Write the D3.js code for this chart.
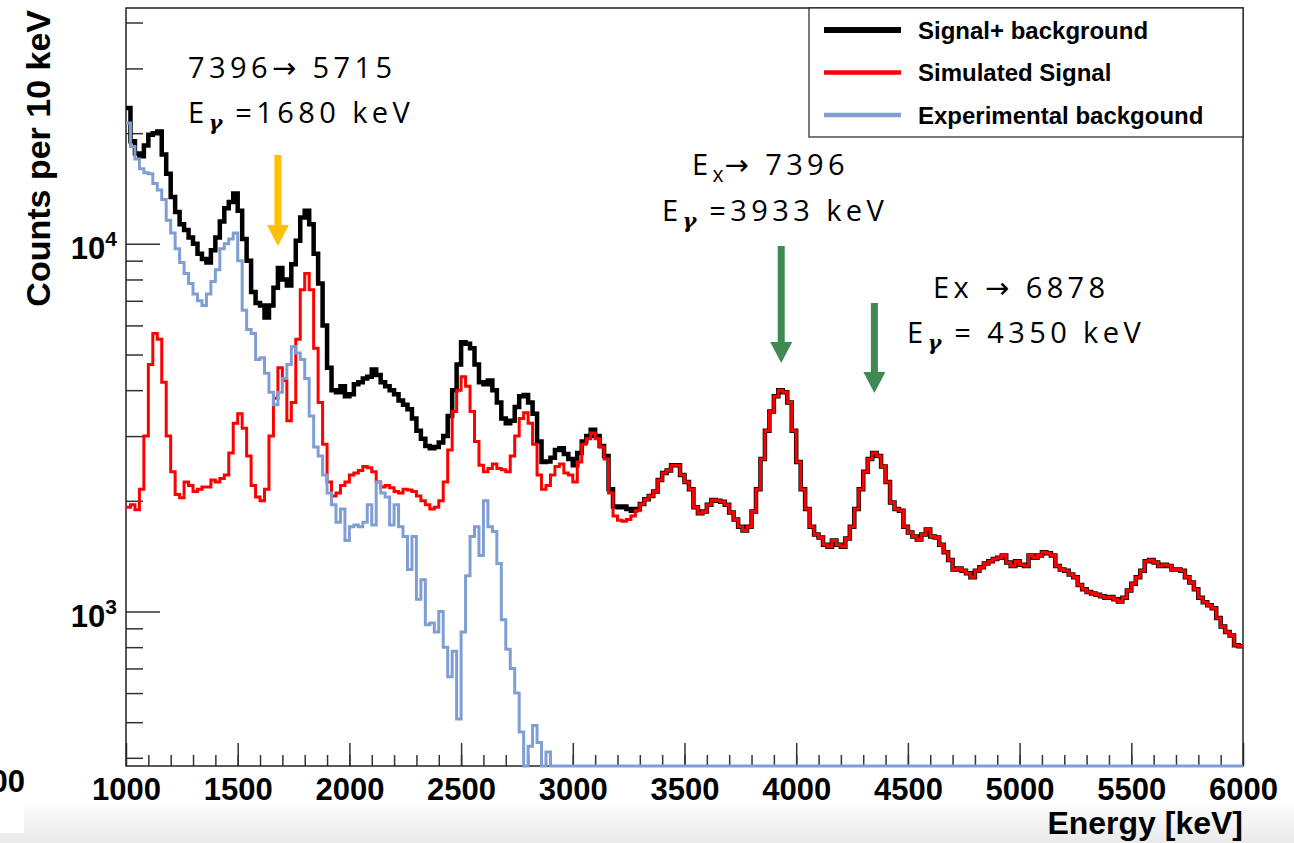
<!DOCTYPE html>
<html>
<head>
<meta charset="utf-8">
<script src="https://cdn.jsdelivr.net/npm/d3@7"></script>
<style>
body { margin: 0; background: #fff; }
svg { display: block; }
</style>
</head>
<body>
<div id="chart"></div>
<script>
// histogram settings: bins of 20 keV starting at 1000 keV (values are counts per 10 keV)
const firstBin = 1000;
const binWidth = 20;

// Simulated signal (red), 1000 -> 5980 keV
const simulatedSignal = [
  1920, 1950, 1890, 2150, 3000, 4700, 5700, 5500, 4200, 3000,
  2400, 2080, 2040, 2250, 2200, 2120, 2150, 2180, 2180, 2280,
  2250, 2300, 2350, 2700, 3250, 3450, 3150, 2650, 2200, 2050,
  2000, 2150, 3000, 3800, 4600, 4250, 3300, 3700, 5500, 7500,
  8300, 7500, 5200, 3700, 2850, 2250, 2060, 2100, 2200, 2250,
  2350, 2380, 2420, 2480, 2460, 2400, 2250, 2180, 2200, 2170,
  2120, 2100, 2150, 2140, 2120, 2060, 2000, 1950, 1900, 1920,
  2000, 2250, 2750, 3500, 4000, 4350, 4100, 3500, 2900, 2500,
  2400, 2450, 2520, 2450, 2430, 2400, 2650, 3000, 3350, 3470,
  3250, 2850, 2350, 2150, 2200, 2350, 2480, 2520, 2380, 2350,
  2250, 2550, 2850, 2950, 3060, 2950, 2800, 2600, 2100, 1820,
  1770, 1760, 1780, 1820, 1880, 1960, 2020, 2060, 2120, 2280,
  2380, 2420, 2500, 2500, 2350, 2250, 2150, 1920, 1850, 1870,
  1950, 2010, 2000, 1990, 1950, 1860, 1780, 1700, 1660, 1700,
  1870, 2150, 2600, 3100, 3500, 3850, 4000, 3950, 3700, 3100,
  2550, 2150, 1900, 1700, 1620, 1590, 1520, 1500, 1560, 1520,
  1500, 1580, 1700, 1900, 2150, 2400, 2600, 2700, 2650, 2480,
  2250, 1980, 1900, 1880, 1700, 1640, 1600, 1570, 1620, 1670,
  1600, 1590, 1520, 1450, 1380, 1300, 1310, 1290, 1270, 1240,
  1290, 1320, 1350, 1370, 1390, 1400, 1420, 1360, 1330, 1370,
  1340, 1330, 1420, 1400, 1420, 1450, 1440, 1420, 1330, 1300,
  1290, 1260, 1240, 1180, 1150, 1130, 1120, 1110, 1100, 1090,
  1095, 1080, 1065, 1090, 1140, 1190, 1240, 1290, 1370, 1380,
  1360, 1330, 1340, 1330, 1300, 1300, 1290, 1240, 1200, 1150,
  1090, 1060, 1040, 1020, 960, 910, 880, 860, 810, 805
];

// Signal + background (black), 1000 -> 3280 keV; above that it lies on the red curve
const signalPlusBgLow = [
  23400, 19000, 17600, 17300, 18500, 19800, 20000, 20200, 17500, 15500,
  13400, 12200, 11300, 10900, 10400, 10000, 9400, 9100, 8900, 9600,
  10400, 11500, 12500, 13000, 13700, 12300, 10300, 9000, 7400, 6900,
  6800, 6300, 6800, 7600, 8600, 8000, 7700, 8800, 10200, 11800,
  12300, 11300, 9400, 7800, 6000, 4600, 4000, 3950, 4100, 3850,
  3900, 4150, 4200, 4300, 4350, 4550, 4400, 4200, 4100, 4000,
  3900, 3750, 3650, 3550, 3350, 3100, 2950, 2820, 2780, 2800,
  2880, 3000, 3400, 4000, 4700, 5400, 5350, 5200, 4700, 4200,
  4150, 4250, 4000, 3700, 3350, 3250, 3300, 3600, 3850, 3880,
  3700, 3450, 2900, 2550, 2560, 2620, 2750, 2780, 2680, 2600,
  2500, 2700, 2900, 3000, 3120, 3000, 2820, 2650, 2150, 1930,
  1920, 1930, 1900, 1880, 1900
];
const signalPlusBg = [...signalPlusBgLow, ...simulatedSignal.slice(signalPlusBgLow.length)];

// Experimental background (blue), 1000 -> 2880 keV; bins above are empty
const backgroundLow = [
  21300, 18400, 17000, 16000, 15600, 15500, 14600, 14000, 13200, 11600,
  10700, 9700, 8900, 8300, 7800, 7300, 7000, 6800, 7300, 7900,
  8500, 9700, 10000, 10300, 10700, 9000, 6600, 5850, 5700, 4850,
  4900, 4450, 3950, 3650, 3950, 4300, 4700, 5250, 5050, 4850,
  4300, 3400, 2800, 2650, 2350, 2100, 1950, 1750, 1900, 1560,
  1700, 1720, 1700, 1750, 1950, 1720, 2250, 2100, 2050, 1720,
  1950, 1700, 1600, 1300, 1600, 1080, 1220, 920, 930, 880,
  1000, 800, 665, 780, 510, 880, 1250, 1600, 1700, 1420,
  2000, 1700, 1650, 1350, 950, 790, 700, 600, 470, 0,
  430, 490, 440, 0, 415
];
const background = [...backgroundLow, ...new Array(simulatedSignal.length - backgroundLow.length).fill(0)];

const legendNames = ["Signal+ background", "Simulated Signal", "Experimental backgound"];
const legendColors = ["#000000", "#ff0000", "#7f9fd4"];

const xTickValues = [1000, 1500, 2000, 2500, 3000, 3500, 4000, 4500, 5000, 5500, 6000];
const yTickValues = [1000, 10000];
const yMinorValues = [400, 500, 600, 700, 800, 900, 2000, 3000, 4000, 5000, 6000, 7000, 8000, 9000, 20000, 30000, 40000];

const markerEnergies = [1680, 3933, 4350];
const markerColors = ["#ffc000", "#3e8a52", "#3e8a52"];

const width = 1294;
const height = 843;
const plotLeft = 126, plotRight = 1243, plotTop = 8, plotBottom = 766;
const yMin = 380, yMax = 43800;

const xScale = d3.scaleLinear().domain([1000, 6000]).range([plotLeft, plotRight]);
const yScale = d3.scaleLog().domain([yMin, yMax]).range([plotBottom, plotTop]);

const svg = d3.select("#chart").append("svg").attr("width", width).attr("height", height)
  .style("font-family", "'Liberation Sans', Arial, sans-serif");

// faint shadow at the bottom of the screenshot
const defs = svg.append("defs");
const grad = defs.append("linearGradient").attr("id", "shade").attr("x1", 0).attr("y1", 0).attr("x2", 0).attr("y2", 1);
grad.append("stop").attr("offset", "0%").attr("stop-color", "#ffffff");
grad.append("stop").attr("offset", "100%").attr("stop-color", "#e9e9e9");
svg.append("rect").attr("x", 0).attr("y", 800).attr("width", width).attr("height", 43).attr("fill", "url(#shade)");
svg.append("rect").attr("x", 0).attr("y", 800).attr("width", 24).attr("height", 33).attr("fill", "#fff");
svg.append("text").text("00").attr("x", 25).attr("y", 792).attr("text-anchor", "end")
  .style("font-weight", "bold").style("font-size", "31px");

defs.append("clipPath").attr("id", "plot").append("rect")
  .attr("x", plotLeft).attr("y", plotTop).attr("width", plotRight - plotLeft).attr("height", plotBottom - plotTop + 3);

// axes (ticks drawn inward like ROOT)
const xMajor = svg.append("g").attr("transform", `translate(0,${plotBottom})`)
  .call(d3.axisBottom(xScale).tickValues(xTickValues).tickSize(-23).tickPadding(12).tickFormat(d3.format("d")));
const xMinor = svg.append("g").attr("transform", `translate(0,${plotBottom})`)
  .call(d3.axisBottom(xScale).tickValues(d3.range(1100, 6000, 100)).tickSize(-11).tickFormat(""));
const yMajor = svg.append("g").attr("transform", `translate(${plotLeft},0)`)
  .call(d3.axisLeft(yScale).tickValues(yTickValues).tickSize(-34).tickFormat(""));
const yMinor = svg.append("g").attr("transform", `translate(${plotLeft},0)`)
  .call(d3.axisLeft(yScale).tickValues(yMinorValues).tickSize(-17).tickFormat(""));
[xMajor, xMinor, yMajor, yMinor].forEach(g => {
  g.select(".domain").remove();
  g.selectAll("line").attr("stroke", "#333").attr("stroke-width", 1.5);
});
xMajor.selectAll("text").attr("fill", "#000").style("font-size", "31px").style("font-weight", "bold");

// y tick labels 10^3, 10^4
svg.selectAll(".ylab").data(yTickValues).join("text")
  .attr("class", "ylab")
  .attr("x", 117)
  .attr("y", d => yScale(d) + 15)
  .attr("text-anchor", "end")
  .style("font-weight", "bold")
  .each(function (d) {
    const t = d3.select(this);
    t.append("tspan").text("10").style("font-size", "31px");
    t.append("tspan").text(Math.round(Math.log10(d))).attr("dy", -13).style("font-size", "21px");
  });

// frame
svg.append("rect").attr("x", plotLeft).attr("y", plotTop).attr("width", plotRight - plotLeft).attr("height", plotBottom - plotTop)
  .attr("fill", "none").attr("stroke", "#222").attr("stroke-width", 1.5);

// axis titles
svg.append("text").text("Energy [keV]")
  .attr("x", plotRight).attr("y", 834).attr("text-anchor", "end")
  .style("font-weight", "bold").style("font-size", "32px");
svg.append("text").text("Counts per 10 keV")
  .attr("transform", `translate(50,${plotTop + 2}) rotate(-90)`).attr("text-anchor", "end")
  .style("font-weight", "bold").style("font-size", "34px");

// histograms as step lines
const toPoints = values => {
  const pts = values.map((v, i) => ({ e: firstBin + i * binWidth, v }));
  pts.push({ e: firstBin + values.length * binWidth, v: values[values.length - 1] });
  return pts;
};
const step = d3.line().curve(d3.curveStepAfter)
  .x(d => xScale(d.e))
  .y(d => yScale(Math.max(d.v, yMin)));

const curves = svg.append("g").attr("clip-path", "url(#plot)");
[
  { values: signalPlusBg, color: legendColors[0], w: 4.5 },
  { values: simulatedSignal, color: legendColors[1], w: 3 },
  { values: background, color: legendColors[2], w: 3 }
].forEach(s => {
  curves.append("path").datum(toPoints(s.values))
    .attr("d", step).attr("fill", "none")
    .attr("stroke", s.color).attr("stroke-width", s.w)
    .attr("stroke-linejoin", "miter");
});

// legend
const legend = svg.append("g");
legend.append("rect").attr("x", 809).attr("y", plotTop).attr("width", plotRight - 809).attr("height", 129)
  .attr("fill", "#fff").attr("stroke", "#222").attr("stroke-width", 1.2);
const rows = legend.selectAll(".row").data(legendNames).join("g")
  .attr("transform", (d, i) => `translate(0,${30 + i * 42.5})`);
rows.append("line").attr("x1", 824).attr("x2", 901).attr("y1", 0).attr("y2", 0)
  .attr("stroke", (d, i) => legendColors[i]).attr("stroke-width", (d, i) => i === 0 ? 6 : 4.5);
rows.append("text").text(d => d).attr("x", 918).attr("y", 8.5)
  .style("font-weight", "bold").style("font-size", "24px");

// arrows pointing at the peaks
const arrowTops = [155, 246, 303];
const arrowTips = [246, 363, 393];
markerEnergies.forEach((e, i) => {
  const cx = xScale(e);
  const g = svg.append("g").attr("fill", markerColors[i]);
  g.append("rect").attr("x", cx - 3.5).attr("y", arrowTops[i]).attr("width", 7).attr("height", arrowTips[i] - 21 - arrowTops[i] + 1);
  g.append("path").attr("d", `M${cx - 11},${arrowTips[i] - 21} L${cx + 11},${arrowTips[i] - 21} L${cx},${arrowTips[i]} Z`);
});

// annotation texts
const annotations = [
  { x: 188, y: 78, segs: [{ t: "7396→ 5715" }] },
  { x: 188, y: 123, segs: [{ t: "E" }, { t: "γ", g: true }, { t: " =1680 keV" }] },
  { x: 692, y: 175, segs: [{ t: "E" }, { t: "x", sub: true }, { t: "→ 7396" }] },
  { x: 662, y: 221, segs: [{ t: "E" }, { t: "γ", g: true }, { t: " =3933 keV" }] },
  { x: 933, y: 298, segs: [{ t: "Ex → 6878" }] },
  { x: 907, y: 343, segs: [{ t: "E" }, { t: "γ", g: true }, { t: " = 4350 keV" }] }
];
annotations.forEach(a => {
  const t = svg.append("text").attr("x", a.x).attr("y", a.y)
    .style("font-family", "'Open Sans', 'DejaVu Sans', sans-serif")
    .style("font-weight", 400)
    .style("font-size", "29px")
    .style("letter-spacing", "4.4px")
    .attr("fill", "#000");
  let shifted = false;
  a.segs.forEach(s => {
    const ts = t.append("tspan").text(s.t);
    if (s.g || s.sub) {
      ts.attr("dy", 7).style("font-size", "21px").style("letter-spacing", "1px");
      if (s.g) ts.style("font-family", "'DejaVu Serif', serif").style("font-style", "italic").style("font-weight", "bold");
      shifted = true;
    } else if (shifted) {
      ts.attr("dy", -7);
      shifted = false;
    }
  });
});
</script>
</body>
</html>
